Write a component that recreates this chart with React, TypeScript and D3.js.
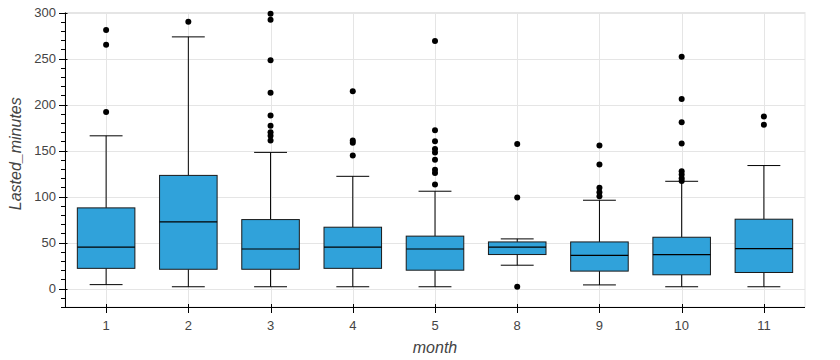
import { useEffect, useRef } from "react";
import * as d3 from "d3";

const months = ["1", "2", "3", "4", "5", "8", "9", "10", "11"];
const q1 = [22, 21, 21, 22, 20, 37, 19, 15, 17.5];
const medians = [45, 72.5, 43, 45, 43, 45, 36, 37, 43.5];
const q3 = [87.7, 123, 75, 66.7, 57, 50.7, 50.7, 55.8, 75.4];
const lowWhisker = [4.3, 2, 2, 2, 2, 25.4, 4, 2, 2];
const highWhisker = [166, 273.5, 148, 122, 105.8, 54, 96, 116.6, 133.7];
const outliers = [
  [281, 265, 192],
  [290],
  [298.6, 292, 248, 212.7, 188, 177, 170, 166, 161],
  [214.5, 161, 158.4, 144.6],
  [269, 172, 160, 151.8, 148, 140, 129, 125.7, 113],
  [157, 99, 2],
  [155.4, 134.8, 109.5, 104.7, 100.3],
  [252, 206, 180.8, 157.6, 127.5, 124, 120, 117],
  [187, 178],
];
const yTicks = [0, 50, 100, 150, 200, 250, 300];

export default function App() {
  const ref = useRef<SVGSVGElement>(null);

  useEffect(() => {
    const svg = d3.select(ref.current);
    svg.selectAll("*").remove();

    const width = 840, height = 360;
    const margin = { top: 12.5, right: 35, bottom: 53, left: 65 };
    const font = "'Liberation Sans', Arial, Helvetica, sans-serif";

    const x = d3.scaleBand()
      .domain(months)
      .range([margin.left, width - margin.right])
      .padding(0);
    const y = d3.scaleLinear()
      .domain([-20, 300])
      .range([height - margin.bottom, margin.top]);

    const bw = x.bandwidth();
    const boxW = bw * 0.7;
    const capW = bw * 0.4;
    const cx = (i: number) => (x(months[i]) as number) + bw / 2;

    // outline + grid
    svg.append("rect")
      .attr("x", margin.left).attr("y", margin.top)
      .attr("width", width - margin.left - margin.right)
      .attr("height", height - margin.top - margin.bottom)
      .attr("fill", "none").attr("stroke", "#e5e5e5");

    svg.append("g").selectAll("line").data(yTicks).join("line")
      .attr("x1", margin.left).attr("x2", width - margin.right)
      .attr("y1", d => Math.round(y(d)) + 0.5).attr("y2", d => Math.round(y(d)) + 0.5)
      .attr("stroke", "#e5e5e5");
    svg.append("g").selectAll("line").data(months).join("line")
      .attr("x1", (d, i) => Math.round(cx(i)) + 0.5).attr("x2", (d, i) => Math.round(cx(i)) + 0.5)
      .attr("y1", margin.top).attr("y2", height - margin.bottom)
      .attr("stroke", "#e5e5e5");

    const g = svg.append("g");
    months.forEach((m, i) => {
      const c = cx(i);
      // whiskers
      g.append("line").attr("x1", c).attr("x2", c)
        .attr("y1", y(q3[i])).attr("y2", y(highWhisker[i])).attr("stroke", "black");
      g.append("line").attr("x1", c).attr("x2", c)
        .attr("y1", y(q1[i])).attr("y2", y(lowWhisker[i])).attr("stroke", "black");
      g.append("line").attr("x1", c - capW / 2).attr("x2", c + capW / 2)
        .attr("y1", y(highWhisker[i])).attr("y2", y(highWhisker[i])).attr("stroke", "black");
      g.append("line").attr("x1", c - capW / 2).attr("x2", c + capW / 2)
        .attr("y1", y(lowWhisker[i])).attr("y2", y(lowWhisker[i])).attr("stroke", "black");
      // box
      g.append("rect")
        .attr("x", c - boxW / 2).attr("width", boxW)
        .attr("y", y(q3[i])).attr("height", y(q1[i]) - y(q3[i]))
        .attr("fill", "#30a2da").attr("stroke", "#1a1a1a").attr("stroke-width", 1);
      g.append("line").attr("x1", c - boxW / 2).attr("x2", c + boxW / 2)
        .attr("y1", y(medians[i])).attr("y2", y(medians[i]))
        .attr("stroke", "black").attr("stroke-width", 1.2);
      // outliers
      g.selectAll(null).data(outliers[i]).join("circle")
        .attr("cx", c).attr("cy", d => y(d)).attr("r", 3).attr("fill", "black");
    });

    // y axis
    const yAxis = svg.append("g").attr("transform", `translate(${margin.left},0)`);
    yAxis.call(
      d3.axisLeft(y).tickValues(d3.range(-20, 301, 10)).tickSize(0).tickFormat(() => "")
    );
    yAxis.select(".domain").remove();
    yAxis.selectAll(".tick line").remove();
    yAxis.append("line").attr("x1", 0.5).attr("x2", 0.5)
      .attr("y1", margin.top).attr("y2", height - margin.bottom + 1).attr("stroke", "black");
    yAxis.selectAll("line.minor").data(d3.range(-20, 301, 10)).join("line")
      .attr("class", "minor")
      .attr("x1", d => (d % 50 === 0 ? -6 : -4)).attr("x2", d => (d % 50 === 0 ? 2.5 : 0.5))
      .attr("y1", d => Math.round(y(d)) + 0.5).attr("y2", d => Math.round(y(d)) + 0.5)
      .attr("stroke", "black");
    yAxis.selectAll("text.lbl").data(yTicks).join("text")
      .attr("class", "lbl")
      .attr("x", -9).attr("y", d => y(d)).attr("dy", "0.35em")
      .attr("text-anchor", "end").attr("font-family", font).attr("font-size", 13)
      .attr("fill", "#444").text(d => d);

    // x axis
    const xAxis = svg.append("g").attr("transform", `translate(0,${height - margin.bottom})`);
    xAxis.call(d3.axisBottom(x).tickSize(0));
    xAxis.select(".domain").remove();
    xAxis.selectAll(".tick text").remove();
    xAxis.append("line").attr("x1", margin.left).attr("x2", width - margin.right)
      .attr("y1", 0.5).attr("y2", 0.5).attr("stroke", "black");
    xAxis.selectAll("line.tk").data(months).join("line")
      .attr("class", "tk")
      .attr("x1", (d, i) => Math.round(cx(i)) + 0.5).attr("x2", (d, i) => Math.round(cx(i)) + 0.5)
      .attr("y1", -3).attr("y2", 6).attr("stroke", "black");
    xAxis.selectAll("text.lbl").data(months).join("text")
      .attr("class", "lbl")
      .attr("x", (d, i) => cx(i)).attr("y", 23)
      .attr("text-anchor", "middle").attr("font-family", font).attr("font-size", 13)
      .attr("fill", "#444").text(d => d);

    // axis titles
    svg.append("text")
      .attr("x", (margin.left + width - margin.right) / 2).attr("y", 353)
      .attr("text-anchor", "middle").attr("font-family", font).attr("font-size", 16)
      .attr("font-style", "italic").attr("fill", "#444").text("month");
    svg.append("text")
      .attr("transform", `translate(21,${(margin.top + height - margin.bottom) / 2 - 6}) rotate(-90)`)
      .attr("text-anchor", "middle").attr("font-family", font).attr("font-size", 16)
      .attr("font-style", "italic").attr("fill", "#444").text("Lasted_minutes");
  }, []);

  return (
    <svg
      ref={ref}
      width={840}
      height={360}
      style={{ position: "absolute", left: 0, top: 0, background: "white" }}
    />
  );
}
